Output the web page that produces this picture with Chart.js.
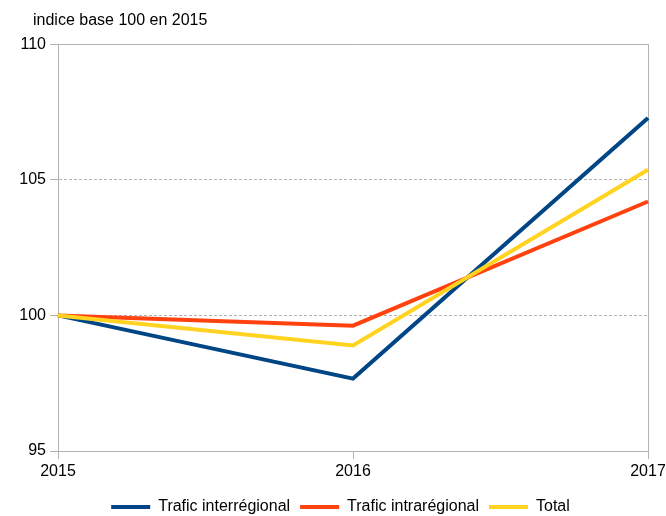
<!DOCTYPE html>
<html>
<head>
<meta charset="utf-8">
<script src="https://cdn.jsdelivr.net/npm/chart.js@4.4.0/dist/chart.umd.min.js"></script>
<style>
  body { margin: 0; background: #fff; }
  #wrap { width: 666px; height: 516px; position: relative; }
</style>
</head>
<body>
<div id="wrap"><canvas id="chart"></canvas></div>
<script>
// Values (index, base 100 in 2015)
const years = ["2015", "2016", "2017"];
const interRegional = [100, 97.67, 107.28];
const intraRegional = [100, 99.62, 104.2];
const total = [100, 98.89, 105.37];
const yTicks = [95, 100, 105, 110];

const gridGray = "#b3b3b3";
const family = "'Liberation Sans', Arial, sans-serif";

const chartCanvas = document.getElementById("chart").getContext("2d");

let myChart = new Chart(chartCanvas, {
    type: "line",
    data: {
        labels: years,
        datasets: [
            { label: "Trafic interrégional", data: interRegional, borderColor: "#004586", backgroundColor: "#004586", order: 2 },
            { label: "Trafic intrarégional", data: intraRegional, borderColor: "#ff420e", backgroundColor: "#ff420e", order: 1 },
            { label: "Total", data: total, borderColor: "#ffd320", backgroundColor: "#ffd320", order: 0 },
        ],
    },
    options: {
        responsive: true,
        maintainAspectRatio: false,
        animation: false,
        layout: { padding: { left: 33, right: 18, top: 0, bottom: 0 } },
        elements: {
            line: { borderWidth: 4, tension: 0, fill: false, borderJoinStyle: "miter" },
            // points are hidden; borderWidth is what the legend sample uses
            point: { radius: 0, hoverRadius: 0, borderWidth: 4, pointStyle: "line" },
        },
        plugins: {
            tooltip: { enabled: false },
            title: {
                display: true,
                text: "indice base 100 en 2015",
                align: "start",
                color: "#000",
                font: { family: family, size: 16, weight: "normal" },
                padding: { top: 11, bottom: 14 },
            },
            legend: {
                position: "bottom",
                maxHeight: 27,
                labels: {
                    usePointStyle: true,
                    pointStyle: "line",
                    pointStyleWidth: 39,
                    padding: 10,
                    color: "#000",
                    font: { family: family, size: 16 },
                    sort: (a, b) => a.datasetIndex - b.datasetIndex,
                },
            },
        },
        scales: {
            x: {
                type: "category",
                offset: false,
                grid: {
                    color: (ctx) => (ctx.index === years.length - 1 ? gridGray : "rgba(0,0,0,0)"),
                    tickColor: gridGray,
                    tickLength: 8,
                },
                border: { color: gridGray },
                ticks: { color: "#000", padding: 3, maxRotation: 0, font: { family: family, size: 16 } },
                afterFit: (scale) => {
                    scale.height = 38;
                    scale.paddingLeft = 0;
                    scale.paddingRight = 0;
                },
            },
            xTop: {
                type: "category",
                position: "top",
                labels: years,
                offset: false,
                grid: { display: false, drawTicks: false },
                ticks: { display: false },
                border: { display: true, color: gridGray },
                afterFit: (scale) => {
                    scale.height = 0;
                    scale.paddingLeft = 0;
                    scale.paddingRight = 0;
                },
            },
            y: {
                min: 95,
                max: 110,
                afterBuildTicks: (scale) => {
                    scale.ticks = yTicks.map((v) => ({ value: v }));
                },
                grid: {
                    color: (ctx) => (ctx.tick && (ctx.tick.value === 95 || ctx.tick.value === 110) ? "rgba(0,0,0,0)" : gridGray),
                    tickColor: gridGray,
                    tickLength: 8,
                },
                border: { color: gridGray, dash: [3, 2] },
                ticks: { color: "#000", padding: 4, font: { family: family, size: 16 } },
                afterFit: (scale) => {
                    scale.width = 25;
                    scale.paddingTop = 0;
                    scale.paddingBottom = 0;
                    // labels are wider than the narrow axis box, don't clip them
                    scale._computeLabelArea = () => undefined;
                },
            },
        },
    },
});
</script>
</body>
</html>
